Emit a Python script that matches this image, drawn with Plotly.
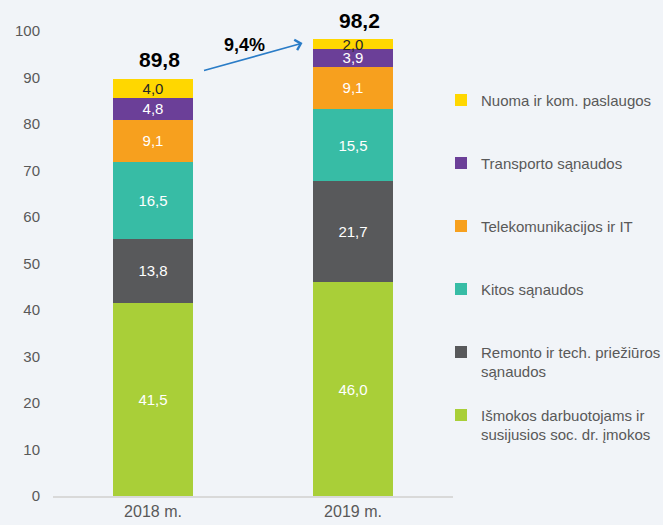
import plotly.graph_objects as go

categories = ["2018 m.", "2019 m."]
series_names = [
    "Išmokos darbuotojams ir<br>susijusios soc. dr. įmokos",
    "Remonto ir tech. priežiūros<br>sąnaudos",
    "Kitos sąnaudos",
    "Telekomunikacijos ir IT",
    "Transporto sąnaudos",
    "Nuoma ir kom. paslaugos",
]
išmokos = [41.5, 46.0]
remontas = [13.8, 21.7]
kitos = [16.5, 15.5]
telekom = [9.1, 9.1]
transportas = [4.8, 3.9]
nuoma = [4.0, 2.0]
totals = [89.8, 98.2]

series_values = [išmokos, remontas, kitos, telekom, transportas, nuoma]
colors = ["#A9CF38", "#58595B", "#37BCA5", "#F7A01E", "#6B3F98", "#FFD700"]
text_colors = ["#FFFFFF", "#FFFFFF", "#FFFFFF", "#FFFFFF", "#FFFFFF", "#262626"]

FONT = "Liberation Sans, Arial, sans-serif"
GRAY = "#595959"
BG = "#F1F4F8"


def fmt(v):
    return f"{v:.1f}".replace(".", ",")


fig = go.Figure()
n = len(series_names)
for i, (name, vals, col, tcol) in enumerate(zip(series_names, series_values, colors, text_colors)):
    # pad single-line legend labels so every legend entry has the same height
    legend_name = name if "<br>" in name else name + "<br> "
    fig.add_trace(go.Bar(
        x=categories, y=vals, name=legend_name,
        marker=dict(color=col, line=dict(width=0)),
        text=[fmt(v) for v in vals],
        textposition="inside", insidetextanchor="middle", textangle=0,
        textfont=dict(family=FONT, size=15, color=tcol),
        legendgroup=f"g{i}",
        legendrank=n - i,
        hoverinfo="skip",
    ))

# totals above bars
for i, t in enumerate(totals):
    fig.add_annotation(x=i, y=t, text=f"<b>{fmt(t)}</b>", showarrow=False,
                       yshift=19, xshift=6, yanchor="middle",
                       font=dict(family=FONT, size=21, color="#000000"))

growth = (totals[1] / totals[0] - 1) * 100
fig.add_annotation(x=0.7475, y=97.4, ax=0.2475, ay=91.4, axref="x", ayref="y",
                   xref="x", yref="y", text="", showarrow=True,
                   arrowhead=4, arrowsize=1.3, arrowwidth=1.6, arrowcolor="#2A7CC7")
fig.add_annotation(x=0.4575, y=97.0, text=f"<b>{fmt(growth)}%</b>", showarrow=False,
                   font=dict(family=FONT, size=18, color="#000000"))

fig.update_layout(
    width=663, height=525,
    margin=dict(l=53, r=210, t=31, b=29, autoexpand=False),
    paper_bgcolor=BG, plot_bgcolor=BG,
    barmode="stack", bargap=0.6,
    font=dict(family=FONT, size=15, color=GRAY),
    uniformtext=dict(minsize=15, mode="show"),
    showlegend=True,
    legend=dict(
        x=0.97, xanchor="left", y=0.8866, yanchor="top",
        traceorder="grouped", tracegroupgap=21,
        valign="top", bgcolor="rgba(0,0,0,0)",
        font=dict(family=FONT, size=15, color=GRAY),
    ),
    xaxis=dict(showgrid=False, showline=True, linecolor="#D9D9D9", linewidth=1.5,
               ticks="", tickfont=dict(family=FONT, size=16, color=GRAY),
               zeroline=False),
    yaxis=dict(range=[0, 100], dtick=10, showgrid=False, showline=False, zeroline=False,
               ticks="", ticklabelstandoff=12,
               tickfont=dict(family=FONT, size=15, color=GRAY)),
)

fig.write_html(
    "out.html",
    config={"displayModeBar": False},
    post_script=f"document.body.style.margin='0';document.body.style.background='{BG}';",
)
